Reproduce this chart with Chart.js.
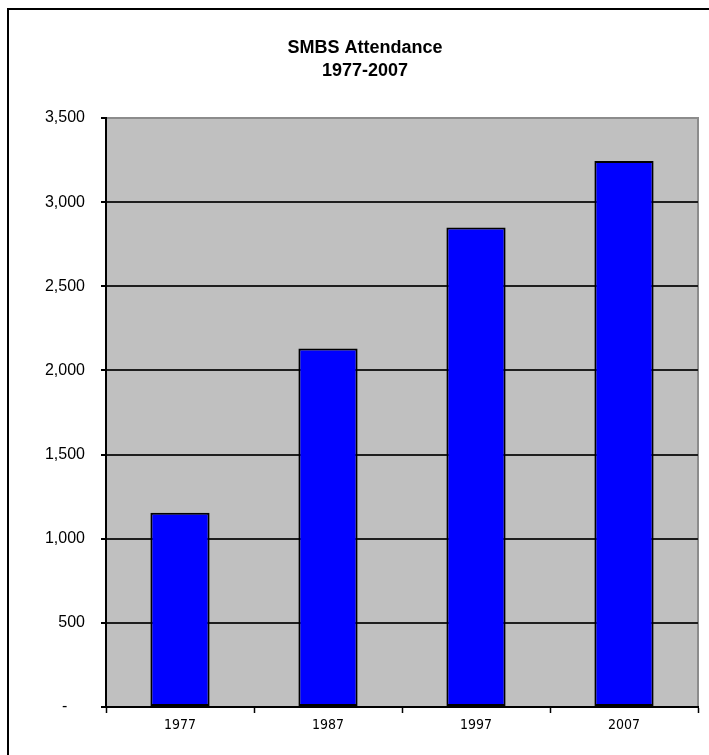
<!DOCTYPE html>
<html>
<head>
<meta charset="utf-8">
<title>SMBS Attendance</title>
<script src="https://cdn.jsdelivr.net/npm/chart.js@4/dist/chart.umd.min.js"></script>
<style>
  html, body { margin: 0; padding: 0; background: #fff; }
  canvas { display: block; }
</style>
</head>
<body>
<canvas id="chart" width="709" height="755"></canvas>
<script>
// données
const years = ['1977', '1987', '1997', '2007'];
const attendance = [1155, 2130, 2850, 3245];
const yTickValues = [0, 500, 1000, 1500, 2000, 2500, 3000, 3500];
const yTickLabels = ['-    ', '500', '1,000', '1,500', '2,000', '2,500', '3,000', '3,500'];
const titleLines = ['SMBS Attendance', '1977-2007'];

const FONT = "Arial, 'Liberation Sans', sans-serif";
const NARROW = "'Liberation Sans Narrow', 'Arial Narrow', 'DejaVu Sans Condensed', Arial, sans-serif";

// fond blanc, cadre du graphique et zone de tracé grise
const excelFrame = {
  id: 'excelFrame',
  beforeDraw(chart) {
    const ctx = chart.ctx;
    const a = chart.chartArea;
    ctx.save();
    ctx.fillStyle = '#fff';
    ctx.fillRect(0, 0, chart.width, chart.height);
    ctx.strokeStyle = '#000';
    ctx.lineWidth = 2;
    ctx.strokeRect(8, 9, chart.width + 20, chart.height + 20);
    ctx.fillStyle = '#c0c0c0';
    ctx.fillRect(a.left, a.top, a.right - a.left, a.bottom - a.top);
    ctx.strokeStyle = '#8c8c8c';
    ctx.lineWidth = 2;
    ctx.strokeRect(a.left, a.top, a.right - a.left, a.bottom - a.top);
    ctx.restore();
  }
};

new Chart(document.getElementById('chart'), {
  type: 'bar',
  data: {
    labels: years,
    datasets: [{
      data: attendance,
      backgroundColor: '#0000ff',
      borderColor: '#000',
      borderWidth: 2,
      borderSkipped: false,
      categoryPercentage: 1,
      barPercentage: 0.4
    }]
  },
  options: {
    responsive: false,
    animation: false,
    devicePixelRatio: 1,
    layout: { padding: { left: 32, right: 11, top: 0, bottom: 0 } },
    plugins: {
      legend: { display: false },
      tooltip: { enabled: false },
      title: {
        display: true,
        text: titleLines,
        color: '#000',
        font: { family: FONT, size: 18, weight: 'bold', lineHeight: 1.25 },
        padding: { top: 37, bottom: 36 }
      }
    },
    scales: {
      x: {
        offset: true,
        grid: {
          offset: true,
          drawOnChartArea: false,
          drawTicks: true,
          tickLength: 6,
          tickColor: '#000',
          tickWidth: 1.5
        },
        border: { display: true, color: '#000', width: 2 },
        ticks: {
          color: '#000',
          padding: 4,
          maxRotation: 0,
          font: { family: NARROW, size: 14 }
        },
        afterFit(scale) { scale.height = 48; }
      },
      y: {
        min: 0,
        max: 3500,
        afterBuildTicks(scale) {
          scale.ticks = yTickValues.map(v => ({ value: v }));
        },
        grid: {
          color: c => (c.tick && c.tick.value === 3500 ? '#8c8c8c' : '#1e1e1e'),
          tickColor: '#000',
          tickLength: 5,
          lineWidth: 2
        },
        border: { display: true, color: '#000', width: 2 },
        ticks: {
          color: '#000',
          padding: 16,
          font: { family: FONT, size: 16 },
          callback: (value) => yTickLabels[yTickValues.indexOf(value)]
        },
        afterFit(scale) { scale.width = 74; }
      }
    }
  },
  plugins: [excelFrame]
});
</script>
</body>
</html>
